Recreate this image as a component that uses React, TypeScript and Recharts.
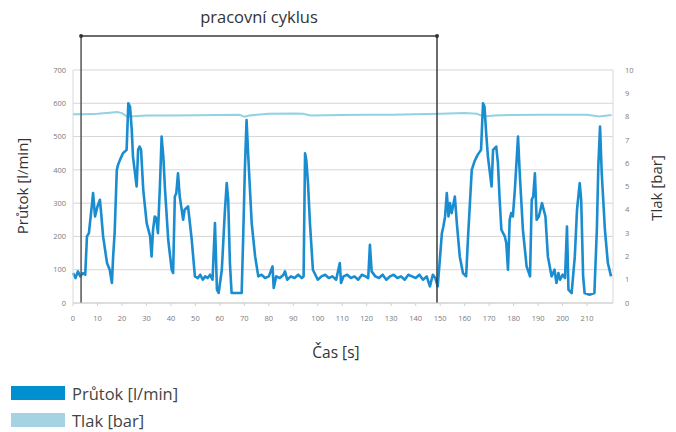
import React from 'react';
import { LineChart, Line, XAxis, YAxis, CartesianGrid, ReferenceLine, ReferenceDot } from 'recharts';

// Flow [l/min] over time [s]
const flowTime = [
  0, 1, 2, 3, 4, 5, 5.7, 6.5, 7.8, 8.2, 9, 10, 11, 11.5, 12.3, 13.9, 15, 15.9, 16.4, 17,
  17.9, 18.4, 19.2, 20.4, 21.9, 22.6, 23.3, 24, 24.5, 26, 26.6, 27.2, 27.8, 28.7, 30.1, 31.5, 32.1, 32.7, 33.4, 34,
  34.7, 35.5, 36.2, 36.9, 37.6, 38.9, 40.3, 40.9, 41.6, 42.2, 42.9, 43.6, 45, 45.6, 47, 48.5, 49.8, 51, 52, 53,
  54, 55, 56, 57, 58, 58.8, 59.5, 60.8, 62, 62.8, 63.4, 64.1, 64.8, 66, 67.5, 68.9, 69.5, 70.2, 70.9, 71.6,
  73, 74.4, 75.7, 77, 78.5, 80, 81.5, 82, 83, 84.5, 86, 86.6, 87.5, 89, 90.5, 92, 93.5, 94.2, 94.8, 95.3,
  96, 96.8, 98, 99, 100, 101.5, 103, 104.5, 106, 107.5, 109, 109.5, 110.5, 112, 113.5, 115, 116.5, 118, 119.5, 120.6,
  121.3, 122, 123.5, 125, 126.5, 128, 129.5, 131, 132.5, 134, 135.5, 137, 138.5, 140, 141.5, 143, 144.5, 145.8, 147, 148,
  149, 150.7, 151.3, 152, 152.7, 153.4, 154, 154.7, 156, 156.8, 158, 159.3, 160.6, 161.4, 162, 162.9, 164, 165.3, 166.7, 167.5,
  168.1, 168.8, 169.5, 171, 171.6, 172.9, 173.6, 174.3, 175, 176.4, 177, 177.7, 178.4, 179, 179.7, 180.5, 181.8, 182.5, 183.8, 185.3,
  186.7, 187.4, 188, 188.7, 189.4, 190.3, 191.6, 193, 194, 195.5, 196.7, 197.5, 198.3, 199, 200, 201, 201.8, 202.4, 203.7, 205,
  205.9, 207, 207.6, 208.4, 209, 211, 213, 214, 214.6, 215.3, 216, 217.3, 218.5, 219.8,
];
const flowValue = [
  90, 75, 95, 80, 90, 85, 200, 210, 300, 330, 260, 290, 310, 270, 200, 120, 100, 60, 140, 210,
  400, 415, 430, 450, 460, 600, 590, 520, 440, 350, 460, 470, 460, 340, 240, 200, 140, 220, 260, 255,
  210, 350, 500, 440, 340, 190, 100, 90, 320, 330, 390, 320, 250, 280, 290, 190, 80, 75, 85, 70,
  80, 75, 85, 70, 240, 40, 30, 100, 270, 360, 310, 120, 30, 30, 30, 30, 190, 400, 550, 440,
  240, 140, 80, 85, 75, 80, 110, 45, 80, 75, 85, 95, 70, 80, 75, 85, 75, 80, 450, 430,
  360, 240, 100, 85, 70, 80, 85, 75, 80, 70, 120, 60, 80, 85, 75, 80, 70, 85, 80, 75,
  175, 95, 80, 75, 85, 70, 80, 85, 75, 80, 70, 85, 80, 75, 85, 70, 80, 50, 85, 75,
  50, 210, 230, 260, 330, 260, 300, 270, 320, 240, 140, 90, 80, 200, 280, 400, 425, 445, 460, 600,
  590, 510, 440, 350, 460, 470, 420, 310, 220, 200, 180, 100, 250, 270, 260, 340, 500, 390, 220, 110,
  80, 310, 320, 390, 250, 260, 300, 260, 140, 80, 100, 60, 90, 70, 85, 75, 230, 40, 30, 140,
  280, 360, 310, 80, 30, 25, 30, 220, 410, 530, 390, 220, 120, 80,
];

// Pressure [bar] over time [s]
const pressureTime = [0, 5, 10, 15, 18, 20, 22, 25, 30, 40, 50, 60, 68, 70, 72, 80, 90, 94, 97, 110, 120, 130, 140, 150, 160, 165, 168, 172, 180, 190, 200, 210, 215, 220];
const pressureValue = [8.1, 8.1, 8.12, 8.17, 8.2, 8.15, 8.0, 8.02, 8.05, 8.05, 8.06, 8.07, 8.08, 8.0, 8.05, 8.12, 8.13, 8.12, 8.05, 8.07, 8.08, 8.08, 8.1, 8.12, 8.15, 8.12, 8.0, 8.05, 8.07, 8.08, 8.08, 8.08, 8.0, 8.07];

const timeTicks = [0, 10, 20, 30, 40, 50, 60, 70, 80, 90, 100, 110, 120, 130, 140, 150, 160, 170, 180, 190, 200, 210];
const flowTicks = [0, 100, 200, 300, 400, 500, 600, 700];
const pressureTicks = [0, 1, 2, 3, 4, 5, 6, 7, 8, 9, 10];

const cycleStart = 3.3;
const cycleEnd = 148.7;
const bracketLevel = 802;

const flowData = flowTime.map((t, i) => ({ t, flow: flowValue[i] }));
const pressureData = pressureTime.map((t, i) => ({ t, pressure: pressureValue[i] }));

const FONT = '"Open Sans", "Noto Sans", sans-serif';
const FLOW_COLOR = '#1a8cd0';
const PRESSURE_COLOR = '#92d2e2';
const tickStyle = { fontSize: 7.5, fill: '#7a7a7a', fontFamily: FONT };

export default function App() {
  return (
    <div style={{ position: 'absolute', left: 0, top: 0, width: 676, height: 432, background: '#fff', fontFamily: FONT }}>
      <LineChart width={676} height={370} margin={{ top: 70, right: 0, bottom: 7, left: 0 }}>
        <CartesianGrid yAxisId="left" vertical={false} stroke="#d6d6d6" strokeWidth={1} />
        <XAxis
          dataKey="t"
          type="number"
          domain={[0, 220.6]}
          ticks={timeTicks}
          allowDuplicatedCategory={false}
          height={60}
          tick={tickStyle}
          tickSize={3}
          tickMargin={10}
          axisLine={{ stroke: '#d0d0d0' }}
          tickLine={{ stroke: '#d0d0d0' }}
        />
        <YAxis
          yAxisId="left"
          domain={[0, 700]}
          ticks={flowTicks}
          width={73}
          tick={tickStyle}
          tickSize={0}
          tickMargin={7}
          axisLine={{ stroke: '#d8d8d8' }}
        />
        <YAxis
          yAxisId="right"
          orientation="right"
          domain={[0, 10]}
          ticks={pressureTicks}
          width={63}
          tick={{ ...tickStyle, textAnchor: 'start' }}
          tickSize={0}
          tickMargin={12}
          axisLine={{ stroke: '#d8d8d8' }}
        />
        <Line
          yAxisId="right"
          data={pressureData}
          dataKey="pressure"
          name="Tlak [bar]"
          stroke={PRESSURE_COLOR}
          strokeWidth={2}
          dot={false}
          isAnimationActive={false}
        />
        <Line
          yAxisId="left"
          data={flowData}
          dataKey="flow"
          name="Průtok [l/min]"
          stroke={FLOW_COLOR}
          strokeWidth={2.6}
          strokeLinejoin="round"
          dot={false}
          isAnimationActive={false}
        />
        <ReferenceLine
          yAxisId="left"
          ifOverflow="visible"
          segment={[{ x: cycleStart, y: bracketLevel }, { x: cycleEnd, y: bracketLevel }]}
          stroke="#3a3a3a"
          strokeWidth={1.5}
        />
        <ReferenceLine
          yAxisId="left"
          ifOverflow="visible"
          segment={[{ x: cycleStart, y: bracketLevel }, { x: cycleStart, y: 0 }]}
          stroke="#555"
          strokeWidth={1.5}
        />
        <ReferenceLine
          yAxisId="left"
          ifOverflow="visible"
          segment={[{ x: cycleEnd, y: bracketLevel }, { x: cycleEnd, y: 0 }]}
          stroke="#3a3a3a"
          strokeWidth={1.5}
        />
        <ReferenceDot yAxisId="left" x={cycleStart} y={bracketLevel} r={2} fill="#333" stroke="none" ifOverflow="visible" />
        <ReferenceDot yAxisId="left" x={cycleEnd} y={bracketLevel} r={2} fill="#333" stroke="none" ifOverflow="visible" />
      </LineChart>

      <div style={{ position: 'absolute', left: 159, top: 6, width: 200, textAlign: 'center', fontSize: 16.5, color: '#333', lineHeight: '22px' }}>
        pracovní cyklus
      </div>
      <div style={{ position: 'absolute', left: 22, top: 186, transform: 'translate(-50%, -50%) rotate(-90deg)', fontSize: 15, color: '#333', whiteSpace: 'nowrap' }}>
        Průtok [l/min]
      </div>
      <div style={{ position: 'absolute', left: 656, top: 188, transform: 'translate(-50%, -50%) rotate(-90deg)', fontSize: 15, color: '#333', whiteSpace: 'nowrap' }}>
        Tlak [bar]
      </div>
      <div style={{ position: 'absolute', left: 236, top: 341, width: 200, textAlign: 'center', fontSize: 15.5, color: '#333', lineHeight: '22px' }}>
        Čas [s]
      </div>

      <div style={{ position: 'absolute', left: 11, top: 383, fontSize: 16.5, color: '#444' }}>
        <div style={{ display: 'flex', alignItems: 'center', height: 20, marginBottom: 7 }}>
          <div style={{ width: 54, height: 14, background: '#0090d0', marginRight: 7 }} />
          <span>Průtok [l/min]</span>
        </div>
        <div style={{ display: 'flex', alignItems: 'center', height: 20 }}>
          <div style={{ width: 54, height: 14, background: '#a6d3e1', marginRight: 7 }} />
          <span>Tlak [bar]</span>
        </div>
      </div>
    </div>
  );
}
